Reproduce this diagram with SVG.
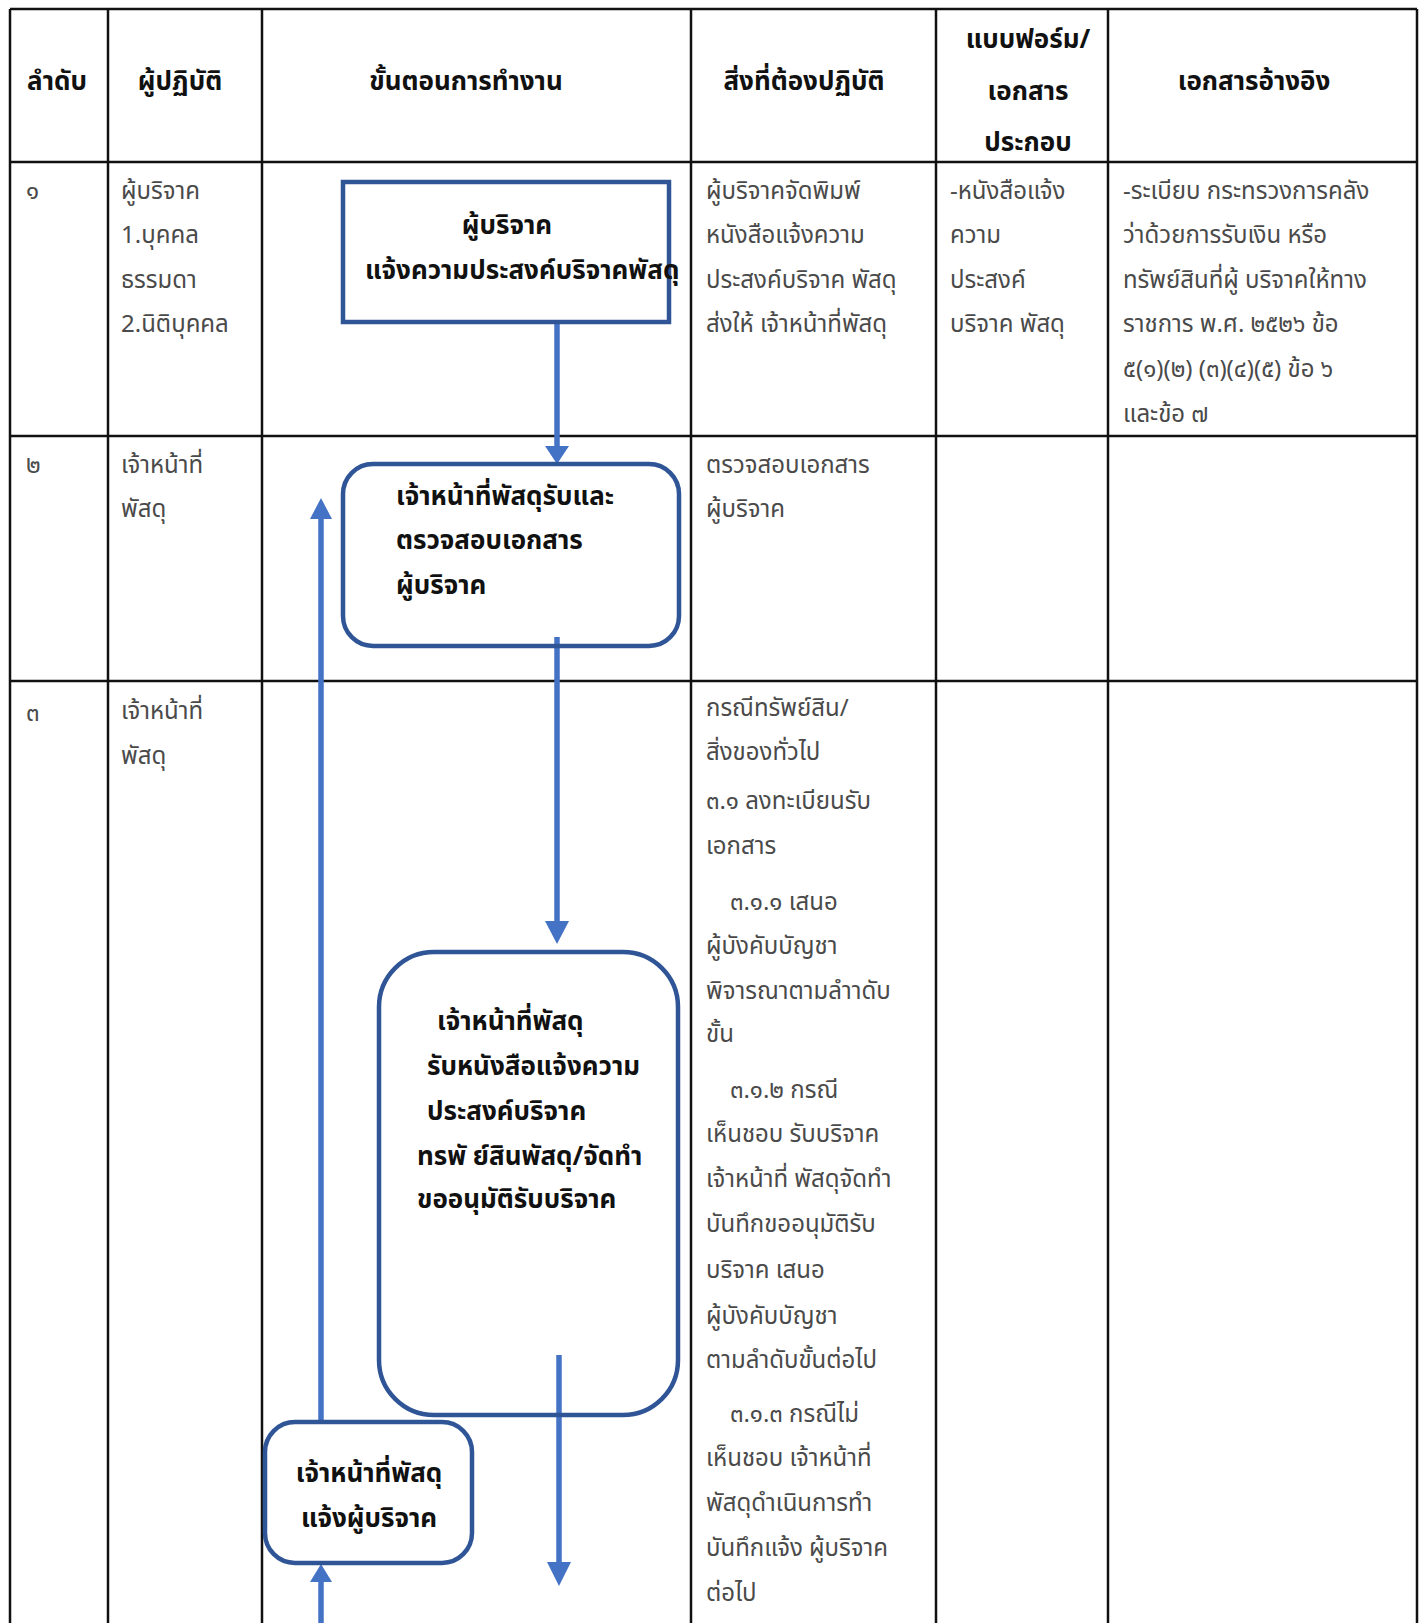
<svg xmlns="http://www.w3.org/2000/svg" width="1421" height="1623" viewBox="0 0 1421 1623">
<style>
text{font-family:"Noto Sans Thai","Noto Sans Thai UI","Loma","Garuda","Noto Sans","DejaVu Sans",sans-serif;}
.h{font-size:26px;font-weight:bold;fill:#111;}
.c{font-size:24px;fill:#4a4a4a;}
.b{font-size:26px;font-weight:bold;fill:#111;}
.grid{stroke:#111;stroke-width:2.5;fill:none;}
.box{fill:#fff;stroke:#2F5597;stroke-width:4.5;}
.arr{stroke:#4472C4;stroke-width:5.5;fill:none;}
.ah{fill:#4472C4;}
</style>
<rect x="0" y="0" width="1421" height="1623" fill="#fff"/>
<g id="table" class="grid">
<line x1="10" y1="9" x2="1417" y2="9"/>
<line x1="10" y1="162" x2="1417" y2="162"/>
<line x1="10" y1="436" x2="1417" y2="436"/>
<line x1="10" y1="681" x2="1417" y2="681"/>
<line x1="10" y1="9" x2="10" y2="1623"/>
<line x1="108" y1="9" x2="108" y2="1623"/>
<line x1="262" y1="9" x2="262" y2="1623"/>
<line x1="691" y1="9" x2="691" y2="1623"/>
<line x1="936" y1="9" x2="936" y2="1623"/>
<line x1="1108" y1="9" x2="1108" y2="1623"/>
<line x1="1417" y1="9" x2="1417" y2="1623"/>
</g>
<g id="header">
<text class="h" x="57" y="90" text-anchor="middle">ลำดับ</text>
<text class="h" x="180" y="90" text-anchor="middle">ผู้ปฏิบัติ</text>
<text class="h" x="466" y="90" text-anchor="middle">ขั้นตอนการทำงาน</text>
<text class="h" x="804" y="90" text-anchor="middle">สิ่งที่ต้องปฏิบัติ</text>
<text class="h" x="1028" y="48" text-anchor="middle">แบบฟอร์ม/</text>
<text class="h" x="1028" y="100" text-anchor="middle">เอกสาร</text>
<text class="h" x="1028" y="151" text-anchor="middle">ประกอบ</text>
<text class="h" x="1254" y="90" text-anchor="middle">เอกสารอ้างอิง</text>
</g>
<g id="col-order" class="c">
<text x="26" y="199">๑</text>
<text x="26" y="473">๒</text>
<text x="26" y="721">๓</text>
</g>
<g id="col-actor" class="c">
<text x="121" y="199">ผู้บริจาค</text>
<text x="121" y="243">1.บุคคล</text>
<text x="121" y="288">ธรรมดา</text>
<text x="121" y="332">2.นิติบุคคล</text>
<text x="121" y="473">เจ้าหน้าที่</text>
<text x="121" y="517">พัสดุ</text>
<text x="121" y="719">เจ้าหน้าที่</text>
<text x="121" y="764">พัสดุ</text>
</g>
<g id="col-todo" class="c">
<text x="706" y="199">ผู้บริจาคจัดพิมพ์</text>
<text x="706" y="243">หนังสือแจ้งความ</text>
<text x="706" y="288">ประสงค์บริจาค พัสดุ</text>
<text x="706" y="332">ส่งให้ เจ้าหน้าที่พัสดุ</text>
<text x="706" y="473">ตรวจสอบเอกสาร</text>
<text x="706" y="517">ผู้บริจาค</text>
<text x="706" y="716">กรณีทรัพย์สิน/</text>
<text x="706" y="760">สิ่งของทั่วไป</text>
<text x="706" y="809">๓.๑  ลงทะเบียนรับ</text>
<text x="706" y="854">เอกสาร</text>
<text x="730" y="910">๓.๑.๑  เสนอ</text>
<text x="706" y="954">ผู้บังคับบัญชา</text>
<text x="706" y="999">พิจารณาตามลำาดับ</text>
<text x="706" y="1042">ขั้น</text>
<text x="730" y="1098">๓.๑.๒  กรณี</text>
<text x="706" y="1142">เห็นชอบ รับบริจาค</text>
<text x="706" y="1187">เจ้าหน้าที่ พัสดุจัดทำ</text>
<text x="706" y="1232">บันทึกขออนุมัติรับ</text>
<text x="706" y="1278">บริจาค เสนอ</text>
<text x="706" y="1324">ผู้บังคับบัญชา</text>
<text x="706" y="1368">ตามลำดับขั้นต่อไป</text>
<text x="730" y="1422">๓.๑.๓  กรณีไม่</text>
<text x="706" y="1466">เห็นชอบ เจ้าหน้าที่</text>
<text x="706" y="1511">พัสดุดำเนินการทำ</text>
<text x="706" y="1556">บันทึกแจ้ง ผู้บริจาค</text>
<text x="706" y="1601">ต่อไป</text>
</g>
<g id="col-forms" class="c">
<text x="950" y="199">-หนังสือแจ้ง</text>
<text x="950" y="243">ความ</text>
<text x="950" y="288">ประสงค์</text>
<text x="950" y="332">บริจาค พัสดุ</text>
</g>
<g id="col-refs" class="c">
<text x="1123" y="199">-ระเบียบ กระทรวงการคลัง</text>
<text x="1123" y="243">ว่าด้วยการรับเงิน หรือ</text>
<text x="1123" y="288">ทรัพย์สินที่ผู้ บริจาคให้ทาง</text>
<text x="1123" y="332">ราชการ พ.ศ. ๒๕๒๖ ข้อ</text>
<text x="1123" y="377">๕(๑)(๒) (๓)(๔)(๕) ข้อ ๖</text>
<text x="1123" y="422">และข้อ ๗</text>
</g>
<g id="connectors">
<line class="arr" x1="557" y1="322" x2="557" y2="446"/>
<polygon class="ah" points="545,446 569,446 557,464"/>
<line class="arr" x1="557" y1="637" x2="557" y2="922"/>
<polygon class="ah" points="545,921 569,921 557,944"/>
<line class="arr" x1="559" y1="1355" x2="559" y2="1563"/>
<polygon class="ah" points="547,1562 571,1562 559,1586"/>
<line class="arr" x1="321" y1="1422" x2="321" y2="518"/>
<polygon class="ah" points="310,519 332,519 321,498"/>
<line class="arr" x1="321" y1="1623" x2="321" y2="1582"/>
<polygon class="ah" points="310,1582 332,1582 321,1564"/>
</g>
<g id="node1">
<rect class="box" x="343" y="182" width="326" height="140" fill-opacity="0"/>
<text class="b" x="507" y="234" text-anchor="middle">ผู้บริจาค</text>
<text class="b" x="365" y="279">แจ้งความประสงค์บริจาคพัสดุ</text>
</g>
<g id="node2">
<rect class="box" x="343" y="464" width="336" height="182" rx="30" fill-opacity="0"/>
<text class="b" x="396" y="505">เจ้าหน้าที่พัสดุรับและ</text>
<text class="b" x="396" y="549">ตรวจสอบเอกสาร</text>
<text class="b" x="396" y="594">ผู้บริจาค</text>
</g>
<g id="node3">
<rect class="box" x="379" y="952" width="299" height="463" rx="55" fill-opacity="0"/>
<text class="b" x="437" y="1030">เจ้าหน้าที่พัสดุ</text>
<text class="b" x="427" y="1075">รับหนังสือแจ้งความ</text>
<text class="b" x="427" y="1120">ประสงค์บริจาค</text>
<text class="b" x="417" y="1165">ทรพั ย์สินพัสดุ/จัดทำ</text>
<text class="b" x="417" y="1208">ขออนุมัติรับบริจาค</text>
</g>
<g id="node4">
<rect class="box" x="265" y="1422" width="207" height="141" rx="30"/>
<text class="b" x="369" y="1482" text-anchor="middle">เจ้าหน้าที่พัสดุ</text>
<text class="b" x="369" y="1527" text-anchor="middle">แจ้งผู้บริจาค</text>
</g>
</svg>
